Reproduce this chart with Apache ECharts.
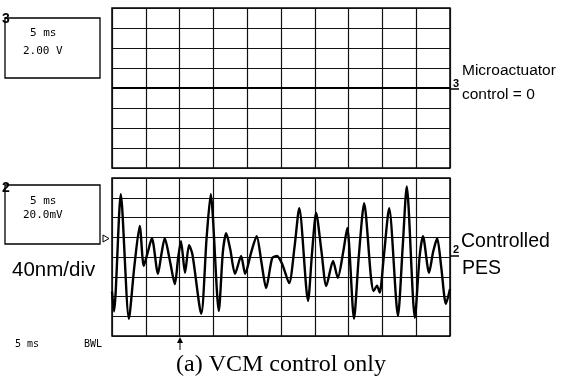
<!DOCTYPE html>
<html>
<head>
<meta charset="utf-8">
<title>VCM control only</title>
<script src="https://cdn.jsdelivr.net/npm/echarts@6/dist/echarts.min.js"></script>
<style>
    html, body { margin: 0; padding: 0; background: #fff; }
    #chart { width: 573px; height: 377px; }
</style>
</head>
<body>
<div id="chart"></div>
<script>
/* ===== 数据 ===== */
// 横轴: 时间 (ms), 5 ms/div, 10 div
const timeMin = 0;
const timeMax = 50;
const timeStep = 5;

// 上通道 3: 微驱动器控制量 (V), 2.00 V/div
const microTime = [0, 50];
const microVolt = [0, 0];
const voltRange = [-8, 8];
const voltStep = 2;

// 下通道 2: PES (nm), 40 nm/div
const pesTime = [
    0, 0.3, 1.3, 2.5, 3.3, 4.1, 4.7, 5.3, 5.9, 6.8,
    7.3, 7.8, 8.6, 9.3, 9.8, 10.2, 10.8, 11.4, 11.9, 13.2,
    14.0, 14.6, 15.8, 16.4, 16.9, 17.5, 18.2, 19.1, 19.7, 20.6,
    21.4, 22.1, 22.8, 23.7, 24.4, 25.2, 26.2, 27.0, 27.7, 29.0,
    29.6, 30.2, 31.0, 31.7, 32.7, 33.4, 34.2, 34.8, 35.8, 36.5,
    37.3, 38.3, 38.7, 39.2, 39.6, 40.2, 41.0, 42.3, 43.0, 43.6,
    44.8, 45.5, 46.0, 46.9, 47.5, 48.1, 48.7, 49.4, 50
];
const pesNm = [
    -70, -110, 127, -125, -20, 63, -18, 10, 38, -34,
    5, 38, -10, -55, 0, 32, -32, 24, 5, -115,
    40, 127, -109, 10, 48, 15, -34, 2, -34, 10,
    42, -10, -63, -2, 2, -15, -53, 20, 99, -89,
    10, 89, 10, -59, -8, -42, 10, 59, -125, 0,
    109, -40, -69, -58, -72, 0, 99, -119, 20, 143,
    -123, 0, 42, -32, 10, 38, -20, -95, -65
];
const nmRange = [-160, 160];
const nmStep = 40;

/* ===== 坐标轴辅助 ===== */
const GRID_LINE = { color: "#111", width: 1.2 };

function timeAxis(gridIndex) {
    return {
        type: "value", gridIndex,
        min: timeMin, max: timeMax, interval: timeStep,
        axisLabel: { show: false }, axisTick: { show: false }, axisLine: { show: false },
        splitLine: { show: true, lineStyle: GRID_LINE },
    };
}

function levelAxis(gridIndex, range, step) {
    return {
        type: "value", gridIndex,
        min: range[0], max: range[1], interval: step,
        axisLabel: { show: false }, axisTick: { show: false }, axisLine: { show: false },
        splitLine: { show: true, lineStyle: GRID_LINE },
    };
}

function zip(xs, ys) {
    return xs.map((x, i) => [x, ys[i]]);
}

const MONO = "'DejaVu Sans Mono', monospace";
const SANS = "'Liberation Sans', Arial, sans-serif";

function txt(x, y, text, font, extra = {}) {
    return {
        type: "text", left: x, top: y,
        style: Object.assign({ text, font, fill: "#000" }, extra),
    };
}

function box(x, y, w, h) {
    return {
        type: "rect", shape: { x, y, width: w, height: h },
        style: { fill: "none", stroke: "#000", lineWidth: 1.3 },
    };
}

function hline(x1, x2, y, w = 1.5) {
    return {
        type: "line", shape: { x1, y1: y, x2, y2: y },
        style: { stroke: "#000", lineWidth: w },
    };
}

/* ===== 图表 ===== */
const chart = echarts.init(document.getElementById("chart"));

chart.setOption({
    animation: false,
    backgroundColor: "#fff",
    grid: [
        { left: 112, top: 8, width: 338, height: 160, show: true, borderColor: "#000", borderWidth: 1.5 },
        { left: 112, top: 178, width: 338, height: 158, show: true, borderColor: "#000", borderWidth: 1.5 },
    ],
    xAxis: [timeAxis(0), timeAxis(1)],
    yAxis: [levelAxis(0, voltRange, voltStep), levelAxis(1, nmRange, nmStep)],
    series: [
        {
            type: "line", xAxisIndex: 0, yAxisIndex: 0,
            data: zip(microTime, microVolt),
            showSymbol: false,
            lineStyle: { color: "#000", width: 2.2 },
        },
        {
            type: "line", xAxisIndex: 1, yAxisIndex: 1,
            data: zip(pesTime, pesNm),
            showSymbol: false,
            smooth: 0.25,
            lineStyle: { color: "#000", width: 2.4 },
        },
    ],
    graphic: [
        // 通道 3 读数框
        box(5, 18, 95, 60),
        txt(2, 12, "3", "bold 14px " + SANS),
        txt(30, 28, "5 ms", "11px " + MONO),
        txt(23, 46, "2.00 V", "11px " + MONO),

        // 通道 2 读数框
        box(5, 185, 95, 59),
        txt(2, 181, "2", "bold 14px " + SANS),
        txt(30, 196, "5 ms", "11px " + MONO),
        txt(23, 210, "20.0mV", "11px " + MONO),

        txt(12, 260, "40nm/div", "20.5px " + SANS),
        txt(15, 339, "5 ms", "10px " + MONO),
        txt(84, 339, "BWL", "10px " + MONO),

        // 左侧触发标记
        {
            type: "polygon", shape: { points: [[103, 235], [109, 238.5], [103, 242]] },
            style: { fill: "#fff", stroke: "#000", lineWidth: 1 },
        },

        // 右侧通道标记与说明
        hline(450, 459, 89),
        txt(453, 78, "3", "bold 11px " + SANS),
        txt(462, 63, "Microactuator", "15.5px " + SANS),
        txt(462, 87, "control = 0", "15.5px " + SANS),

        hline(450, 459, 256),
        txt(453, 244, "2", "bold 11px " + SANS),
        txt(461, 232, "Controlled", "19.5px " + SANS),
        txt(462, 259, "PES", "19.5px " + SANS),

        // 下方箭头
        {
            type: "line", shape: { x1: 180, y1: 339, x2: 180, y2: 350 },
            style: { stroke: "#000", lineWidth: 1 },
        },
        {
            type: "polygon", shape: { points: [[177, 343], [180, 337], [183, 343]] },
            style: { fill: "#000" },
        },

        // 图注
        txt(176, 353, "(a) VCM control only", "24px 'Liberation Serif', 'Times New Roman', serif"),
    ],
});
</script>
</body>
</html>
